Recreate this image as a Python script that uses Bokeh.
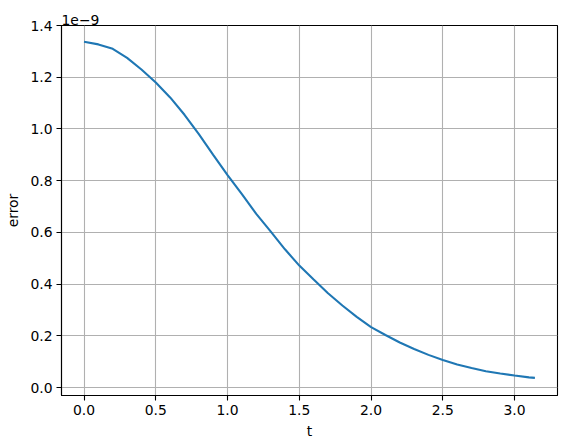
from bokeh.plotting import figure
from bokeh.models import FixedTicker, Range1d, PrintfTickFormatter
from bokeh.embed import file_html
from bokeh.resources import INLINE

# data (error in units of 1e-9)
t = [0.0, 0.1, 0.2, 0.3, 0.4, 0.5, 0.6, 0.7, 0.8, 0.9, 1.0, 1.1, 1.2, 1.3, 1.4,
     1.5, 1.6, 1.7, 1.8, 1.9, 2.0, 2.1, 2.2, 2.3, 2.4, 2.5, 2.6, 2.7, 2.8, 2.9,
     3.0, 3.1, 3.14159]
error_e9 = [1.337, 1.327, 1.310, 1.275, 1.230, 1.180, 1.122, 1.055, 0.980, 0.900,
            0.822, 0.748, 0.672, 0.604, 0.535, 0.472, 0.418, 0.365, 0.318, 0.274,
            0.234, 0.204, 0.175, 0.150, 0.127, 0.107, 0.090, 0.076, 0.064, 0.055,
            0.047, 0.040, 0.038]
x_ticks = [0.0, 0.5, 1.0, 1.5, 2.0, 2.5, 3.0]
y_ticks = [0.0, 0.2, 0.4, 0.6, 0.8, 1.0, 1.2, 1.4]

FONT = "DejaVu Sans"
FS = "13.9px"

p = figure(width=567, height=448, output_backend="svg", toolbar_location=None,
           x_range=Range1d(-0.157, 3.299), y_range=Range1d(-0.030, 1.400),
           min_border_left=61, min_border_top=25, min_border_right=10, min_border_bottom=53,
           title="1e\u22129")

p.title.text_font = FONT
p.title.text_font_size = FS
p.title.text_font_style = "normal"
p.title.text_color = "black"
p.title.align = "left"
p.title.offset = 0
p.title.standoff = 1

p.line(t, error_e9, line_color="#1f77b4", line_width=2.1)

for ax in (p.xaxis[0], p.yaxis[0]):
    ax.axis_line_color = "black"
    ax.axis_line_width = 1.1
    ax.major_tick_line_color = "black"
    ax.major_tick_line_width = 1.1
    ax.major_tick_out = 5
    ax.major_tick_in = 0
    ax.minor_tick_line_color = None
    ax.major_label_text_font = FONT
    ax.major_label_text_font_size = FS
    ax.major_label_text_color = "black"
    ax.major_label_standoff = 4
    ax.axis_label_text_font = FONT
    ax.axis_label_text_font_size = FS
    ax.axis_label_text_font_style = "normal"
    ax.axis_label_text_color = "black"
    ax.formatter = PrintfTickFormatter(format="%.1f")

p.xaxis[0].ticker = FixedTicker(ticks=x_ticks)
p.yaxis[0].ticker = FixedTicker(ticks=y_ticks)
p.xaxis[0].axis_label = "t"
p.yaxis[0].axis_label = "error"
p.xaxis[0].axis_label_standoff = 5
p.yaxis[0].axis_label_standoff = 6

p.grid.grid_line_color = "#b0b0b0"
p.grid.grid_line_width = 1.1
p.outline_line_color = "black"
p.outline_line_width = 1.1
p.background_fill_color = "white"
p.border_fill_color = "white"

open("out.html", "w").write(file_html(p, INLINE))
